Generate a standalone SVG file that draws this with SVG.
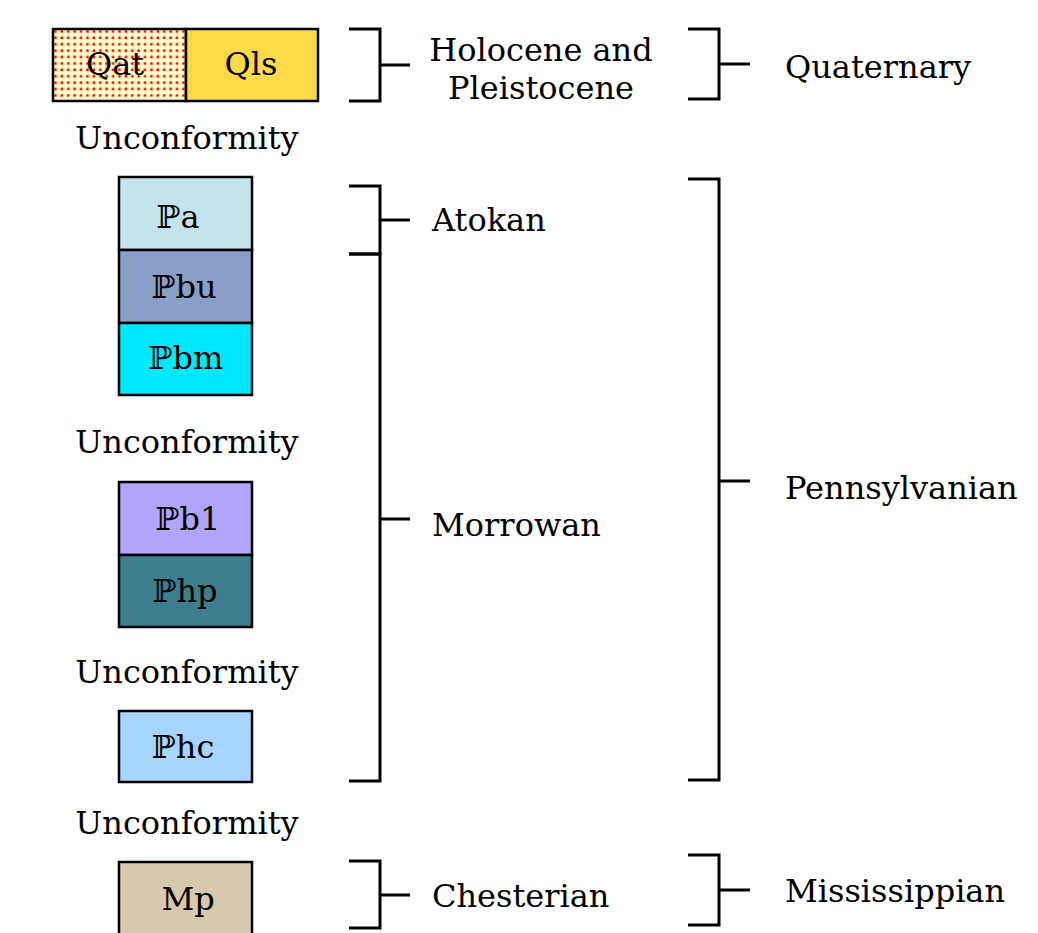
<svg xmlns="http://www.w3.org/2000/svg" width="1038" height="933" viewBox="0 0 1038 933">
<style>
.box{stroke:#000;stroke-width:2.5}
.t{font-family:"DejaVu Serif","Liberation Serif",serif;font-size:32px;fill:#000}
.c{text-anchor:middle}
.br{fill:none;stroke:#000;stroke-width:3}
</style>
<defs>
<pattern id="dots" x="52" y="28" width="6.4" height="6.4" patternUnits="userSpaceOnUse">
<rect width="6.4" height="6.4" fill="#FFFFCC"/>
<rect x="2.2" y="2.2" width="2.5" height="2.5" fill="#FF0000"/>
</pattern>
</defs>
<rect width="1038" height="933" fill="#fff"/>
<g id="Qat"><rect class="box" x="53" y="29" width="133" height="72" fill="url(#dots)"/><text class="t c" x="115" y="75">Qat</text></g>
<g id="Qls"><rect class="box" x="186" y="29" width="132" height="72" fill="#FEDA4A"/><text class="t c" x="251" y="75">Qls</text></g>
<g id="Pa"><rect class="box" x="119" y="177" width="133" height="73" fill="#C5E3EC"/><text class="t c" x="178" y="228">ℙa</text></g>
<g id="Pbu"><rect class="box" x="119" y="250" width="133" height="73" fill="#8A9FC8"/><text class="t c" x="184" y="298">ℙbu</text></g>
<g id="Pbm"><rect class="box" x="119" y="323" width="133" height="72" fill="#00E8FB"/><text class="t c" x="186" y="369">ℙbm</text></g>
<g id="Pb1"><rect class="box" x="119" y="482" width="133" height="73" fill="#B3A4FB"/><text class="t c" x="188" y="530">ℙb1</text></g>
<g id="Php"><rect class="box" x="119" y="555" width="133" height="72" fill="#3E7D8E"/><text class="t c" x="185" y="602">ℙhp</text></g>
<g id="Phc"><rect class="box" x="119" y="711" width="133" height="71" fill="#A8D5FF"/><text class="t c" x="183" y="758">ℙhc</text></g>
<g id="Mp"><rect class="box" x="119" y="862" width="133" height="80" fill="#D8C8AE"/><text class="t c" x="188" y="910">Mp</text></g>
<g id="unconformities">
<text class="t c" x="187" y="149">Unconformity</text>
<text class="t c" x="187" y="453">Unconformity</text>
<text class="t c" x="187" y="683">Unconformity</text>
<text class="t c" x="187" y="834">Unconformity</text>
</g>
<g id="connectors">
<path class="br" d="M349 29H380V101H349M380 65H410"/>
<path class="br" d="M688 29H719V99H688M719 64H750"/>
<path class="br" d="M349 186H380V254H349M380 220H410"/>
<path class="br" d="M349 254H380V781H349M380 519H410"/>
<path class="br" d="M688 179H719V780H688M719 481H750"/>
<path class="br" d="M349 861H380V928H349M380 895H410"/>
<path class="br" d="M688 855H719V925H688M719 890H750"/>
</g>
<g id="labels">
<text class="t c" x="541" y="61">Holocene and</text>
<text class="t c" x="541" y="99">Pleistocene</text>
<text class="t" x="785" y="78">Quaternary</text>
<text class="t" x="432" y="231">Atokan</text>
<text class="t" x="432" y="536">Morrowan</text>
<text class="t" x="785" y="499">Pennsylvanian</text>
<text class="t" x="432" y="907">Chesterian</text>
<text class="t" x="785" y="902">Mississippian</text>
</g>
</svg>
